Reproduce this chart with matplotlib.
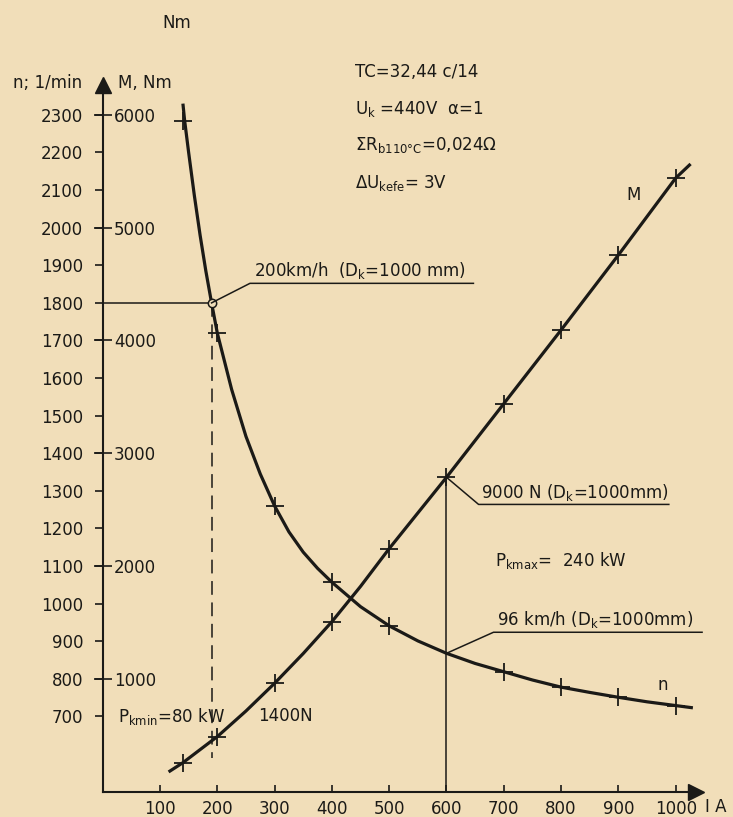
import matplotlib
matplotlib.use("Agg")
import matplotlib.pyplot as plt

# values (I in A, n in 1/min, M in Nm)
n_curve_I = [140, 143, 150, 160, 170, 180, 190, 200, 225, 250, 275, 300, 325, 350, 375,
             400, 450, 500, 550, 600, 650, 700, 750, 800, 850, 900, 950, 1000, 1030]
n_curve = [2330, 2285, 2200, 2085, 1980, 1885, 1800, 1720, 1570, 1445, 1345, 1260, 1191,
           1137, 1094, 1057, 992, 941, 901, 868, 841, 819, 797, 778, 764, 751, 739, 729, 723]
n_mark_I = [140, 200, 300, 400, 500, 700, 800, 900, 1000]
n_mark = [2285, 1720, 1260, 1057, 941, 819, 778, 751, 729]

M_curve_I = [115, 140, 190, 200, 250, 300, 350, 400, 450, 500, 600, 700, 800, 900, 1000, 1026]
M_curve = [175, 257, 450, 488, 715, 961, 1225, 1507, 1820, 2155, 2787, 3440, 4093, 4758, 5440, 5565]
M_mark_I = [140, 200, 300, 400, 500, 600, 700, 800, 900, 1000]
M_mark = [257, 488, 961, 1507, 2155, 2787, 3440, 4093, 4758, 5440]

n_ticks = list(range(700, 2301, 100))
M_ticks = [1000, 2000, 3000, 4000, 5000, 6000]
I_ticks = list(range(100, 1001, 100))

# operating points
I_min, n_min = 190, 1800
I_max = 600

ink = "#1b1a17"
paper = "#f1deb9"
plt.rcParams["font.family"] = ["DejaVu Sans"]
plt.rcParams["mathtext.fontset"] = "dejavusans"

fig = plt.figure(figsize=(7.33, 8.17), dpi=100, facecolor=paper)
ax = fig.add_axes([0.1401, 0.031, 0.8599, 0.8974])
ax.set_facecolor(paper)
ax.set_xlim(0, 1100)
ax.set_ylim(500, 2450)

# M scale shares the pixel grid: 1000 Nm == 300 1/min, 0 Nm on the I axis
ax2 = ax.twinx()
ax2.set_ylim(0, (2450 - 500) * 10 / 3)
ax2.spines["right"].set_position(("axes", 0))
for s in ax2.spines.values():
    s.set_visible(False)
ax2.set_yticks(M_ticks)
ax2.set_yticklabels([str(v) for v in M_ticks])
ax2.tick_params(axis="y", direction="inout", length=13.5, width=1.2, pad=1.5,
                labelsize=12, colors=ink)

for s in ["top", "right"]:
    ax.spines[s].set_visible(False)
ax.spines["left"].set_linewidth(1.5)
ax.spines["bottom"].set_linewidth(1.5)
ax.spines["left"].set_color(ink)
ax.spines["bottom"].set_color(ink)
ax.spines["left"].set_bounds(500, 2385)
ax.spines["bottom"].set_bounds(0, 1025)
ax.plot([1035], [500], marker=">", ms=11, color=ink, clip_on=False)
ax.plot([0], [2380], marker="^", ms=11, color=ink, clip_on=False)

ax.set_yticks(n_ticks)
ax.set_yticklabels([str(v) for v in n_ticks])
ax.tick_params(axis="y", direction="out", length=6, width=1.2, pad=8,
               labelsize=12, colors=ink)
ax.set_xticks(I_ticks)
ax.set_xticklabels([str(v) for v in I_ticks])
ax.tick_params(axis="x", direction="in", length=5, width=1.2, pad=6,
               labelsize=12, colors=ink)

# curves
ax.plot(n_curve_I, n_curve, color=ink, lw=2.3, solid_capstyle="butt", solid_joinstyle="round")
ax.plot(n_mark_I, n_mark, ls="none", marker="+", ms=13, mew=1.3, color=ink)
ax2.plot(M_curve_I, M_curve, color=ink, lw=2.3, solid_capstyle="butt", solid_joinstyle="round")
ax2.plot(M_mark_I, M_mark, ls="none", marker="+", ms=13, mew=1.3, color=ink)

# 200 km/h point
ax.plot([0, I_min], [n_min, n_min], color=ink, lw=1.1)
ax.plot([I_min, I_min], [n_min, 590], color=ink, lw=1.1, dashes=(9, 5))
ax.plot([I_min], [n_min], marker="o", ms=6, mfc=paper, mec=ink, mew=1.1)
ax.plot([I_min, 257, 647], [n_min, 1852, 1852], color=ink, lw=1.1)
ax.text(264, 1885, r"200km/h  (D$_\mathrm{k}$=1000 mm)", fontsize=12, color=ink, va="center")

# 600 A point
M600 = M_mark[M_mark_I.index(I_max)]
ax.plot([I_max, I_max], [500, 500 + M600 * 0.3], color=ink, lw=1.1)
ax.plot([I_max, 656, 988], [500 + M600 * 0.3, 1264, 1264], color=ink, lw=1.1)
ax.text(660, 1296, r"9000 N (D$_\mathrm{k}$=1000mm)", fontsize=12, color=ink, va="center")
ax.plot([I_max, 682, 1046], [868, 924, 924], color=ink, lw=1.1)
ax.text(689, 957, r"96 km/h (D$_\mathrm{k}$=1000mm)", fontsize=12, color=ink, va="center")
ax.text(685, 1116, r"P$_\mathrm{kmax}$=  240 kW", fontsize=12, color=ink, va="center")
ax.text(27, 700, r"P$_\mathrm{kmin}$=80 kW", fontsize=12, color=ink, va="center")
ax.text(271, 700, "1400N", fontsize=12, color=ink, va="center")

# motor data
ax.text(440, 2415, "TC=32,44 c/14", fontsize=12, color=ink, va="center", clip_on=False)
ax.text(440, 2317, r"U$_\mathrm{k}$ =440V  α=1", fontsize=12, color=ink, va="center")
ax.text(440, 2220, r"ΣR$_\mathrm{b110°C}$=0,024Ω", fontsize=12, color=ink, va="center")
ax.text(440, 2119, r"ΔU$_\mathrm{kefe}$= 3V", fontsize=12, color=ink, va="center")

# curve and axis names
ax.text(926, 2087, "M", fontsize=12, color=ink, ha="center", va="center")
ax.text(978, 784, "n", fontsize=12, color=ink, ha="center", va="center")
ax.text(-36, 2385, "n; 1/min", fontsize=12, color=ink, ha="right", va="center")
ax.text(27, 2385, "M, Nm", fontsize=12, color=ink, ha="left", va="center")
ax.text(1052, 458, "I A", fontsize=12, color=ink, ha="left", va="center", clip_on=False)
fig.text(177 / 733, 1 - 23 / 817, "Nm", fontsize=12, color=ink, ha="center", va="center")

fig.savefig("out.png", dpi=100, facecolor=paper)
